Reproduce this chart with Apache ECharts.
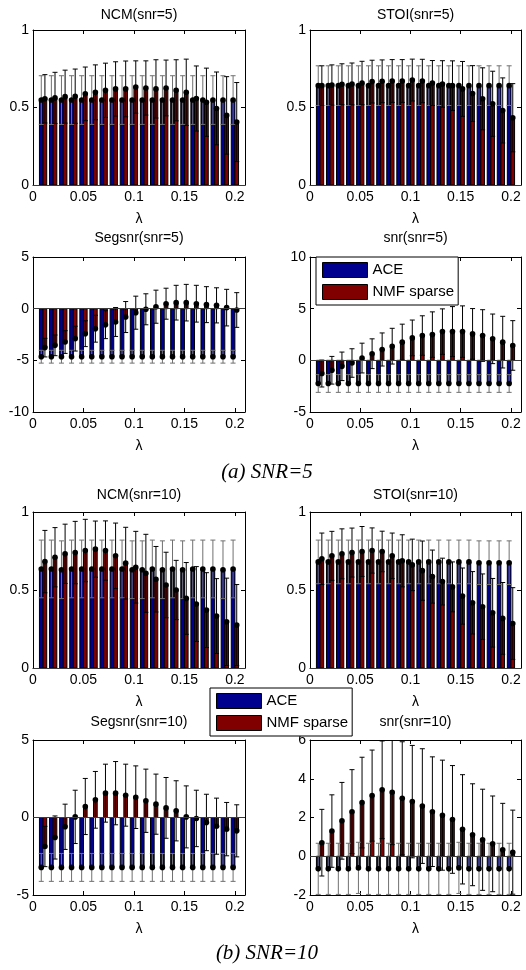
<!DOCTYPE html>
<html>
<head>
<meta charset="utf-8">
<script src="https://cdn.jsdelivr.net/npm/echarts@6/dist/echarts.min.js"></script>
<style>
html,body{margin:0;padding:0;background:#fff;}
#chart{width:526px;height:970px;}
</style>
</head>
<body>
<div id="chart"></div>
<script>
// ---- data ----
var lambda = [0.01,0.02,0.03,0.04,0.05,0.06,0.07,0.08,0.09,0.10,0.11,0.12,0.13,0.14,0.15,0.16,0.17,0.18,0.19,0.20];
var xTicks = ['0','0.05','0.1','0.15','0.2'];

// NCM snr=5
var ncm5Ace    = [0.548,0.548,0.548,0.548,0.548,0.548,0.548,0.548,0.548,0.548,0.548,0.548,0.548,0.548,0.548,0.548,0.548,0.548,0.548,0.548];
var ncm5AceStd = [0.157,0.157,0.157,0.157,0.157,0.157,0.157,0.157,0.157,0.157,0.157,0.157,0.157,0.157,0.157,0.157,0.157,0.157,0.157,0.157];
var ncm5Nmf    = [0.556,0.562,0.570,0.573,0.588,0.598,0.611,0.620,0.620,0.632,0.626,0.620,0.626,0.611,0.598,0.558,0.534,0.494,0.449,0.406];
var ncm5NmfStd = [0.156,0.165,0.171,0.175,0.173,0.177,0.175,0.175,0.180,0.169,0.175,0.188,0.180,0.197,0.214,0.210,0.220,0.235,0.250,0.255];

// STOI snr=5
var stoi5Ace    = [0.641,0.641,0.641,0.641,0.641,0.641,0.641,0.641,0.641,0.641,0.641,0.641,0.641,0.641,0.641,0.641,0.641,0.641,0.641,0.641];
var stoi5AceStd = [0.128,0.128,0.128,0.128,0.128,0.128,0.128,0.128,0.128,0.128,0.128,0.128,0.128,0.128,0.128,0.128,0.128,0.128,0.128,0.128];
var stoi5Nmf    = [0.641,0.645,0.650,0.652,0.658,0.667,0.669,0.671,0.671,0.677,0.671,0.658,0.652,0.641,0.620,0.590,0.556,0.524,0.481,0.434];
var stoi5NmfStd = [0.128,0.130,0.132,0.135,0.140,0.138,0.138,0.138,0.138,0.135,0.140,0.145,0.150,0.160,0.177,0.180,0.200,0.210,0.210,0.220];

// Segsnr snr=5
var seg5Ace    = [-4.65,-4.65,-4.65,-4.65,-4.65,-4.65,-4.65,-4.65,-4.65,-4.65,-4.65,-4.65,-4.65,-4.65,-4.65,-4.65,-4.65,-4.65,-4.65,-4.65];
var seg5AceStd = [0.62,0.62,0.62,0.62,0.62,0.62,0.62,0.62,0.62,0.62,0.62,0.62,0.62,0.62,0.62,0.62,0.62,0.62,0.62,0.62];
var seg5Nmf    = [-3.77,-3.55,-3.23,-2.90,-2.42,-1.94,-1.55,-1.29,-0.81,-0.39,-0.06,0.19,0.48,0.58,0.58,0.48,0.39,0.32,0.10,-0.13];
var seg5NmfStd = [0.90,1.00,1.10,1.20,1.25,1.30,1.35,1.40,1.50,1.60,1.50,1.60,1.50,1.68,1.77,1.78,1.74,1.70,1.77,1.68];

// snr snr=5
var snr5Ace    = [-2.24,-2.24,-2.24,-2.24,-2.24,-2.24,-2.24,-2.24,-2.24,-2.24,-2.24,-2.24,-2.24,-2.24,-2.24,-2.24,-2.24,-2.24,-2.24,-2.24];
var snr5AceStd = [0.86,0.86,0.86,0.86,0.86,0.86,0.86,0.86,0.86,0.86,0.86,0.86,0.86,0.86,0.86,0.86,0.86,0.86,0.86,0.86];
var snr5Nmf    = [-1.28,-0.96,-0.58,-0.26,0.22,0.64,1.05,1.37,1.76,2.17,2.40,2.49,2.78,2.78,2.78,2.56,2.40,2.08,1.76,1.44];
var snr5NmfStd = [1.30,1.34,1.38,1.38,1.44,1.44,1.60,1.73,1.74,1.73,1.91,2.20,2.20,2.42,2.49,2.45,2.50,2.40,2.50,2.40];

// NCM snr=10
var ncm10Ace    = [0.635,0.635,0.630,0.635,0.635,0.635,0.635,0.635,0.635,0.630,0.630,0.635,0.630,0.635,0.630,0.635,0.635,0.635,0.630,0.635];
var ncm10AceStd = [0.185,0.185,0.185,0.185,0.185,0.185,0.185,0.185,0.185,0.185,0.185,0.185,0.185,0.185,0.185,0.185,0.185,0.185,0.185,0.185];
var ncm10Nmf    = [0.682,0.710,0.732,0.740,0.753,0.762,0.753,0.719,0.672,0.646,0.607,0.569,0.532,0.500,0.446,0.410,0.371,0.333,0.296,0.275];
var ncm10NmfStd = [0.200,0.190,0.190,0.200,0.200,0.180,0.190,0.210,0.230,0.230,0.250,0.210,0.210,0.190,0.230,0.240,0.240,0.240,0.280,0.260];

// STOI snr=10
var stoi10Ace    = [0.680,0.680,0.680,0.680,0.680,0.680,0.680,0.680,0.680,0.680,0.680,0.680,0.680,0.680,0.680,0.680,0.675,0.675,0.675,0.675];
var stoi10AceStd = [0.140,0.140,0.140,0.140,0.140,0.140,0.140,0.140,0.140,0.140,0.140,0.140,0.140,0.140,0.140,0.140,0.140,0.140,0.140,0.140];
var stoi10Nmf    = [0.700,0.719,0.732,0.740,0.747,0.753,0.747,0.719,0.687,0.661,0.624,0.586,0.554,0.520,0.461,0.418,0.393,0.354,0.318,0.285];
var stoi10NmfStd = [0.165,0.157,0.160,0.157,0.160,0.145,0.130,0.146,0.167,0.165,0.190,0.170,0.150,0.160,0.180,0.200,0.210,0.220,0.230,0.230];

// Segsnr snr=10
var seg10Ace    = [-3.22,-3.22,-3.22,-3.22,-3.22,-3.22,-3.22,-3.22,-3.22,-3.22,-3.22,-3.22,-3.22,-3.22,-3.22,-3.22,-3.22,-3.22,-3.22,-3.22];
var seg10AceStd = [0.90,0.90,0.90,0.90,0.90,0.90,0.90,0.90,0.90,0.90,0.90,0.90,0.90,0.90,0.90,0.90,0.90,0.90,0.90,0.90];
var seg10Nmf    = [-1.87,-1.29,-0.60,0.04,0.71,1.14,1.57,1.57,1.44,1.31,1.08,0.86,0.62,0.43,0.04,-0.06,-0.32,-0.56,-0.75,-0.86];
var seg10NmfStd = [1.30,1.39,1.46,1.72,1.81,1.83,1.87,2.04,2.00,2.02,2.04,1.94,1.96,1.94,2.00,1.82,1.82,1.81,1.72,1.68];

// snr snr=10
var snr10Ace    = [-0.65,-0.65,-0.65,-0.65,-0.60,-0.65,-0.65,-0.65,-0.65,-0.65,-0.65,-0.65,-0.65,-0.65,-0.60,-0.65,-0.65,-0.65,-0.65,-0.65];
var snr10AceStd = [1.32,1.32,1.32,1.32,1.32,1.32,1.32,1.32,1.32,1.32,1.32,1.32,1.32,1.32,1.32,1.32,1.32,1.32,1.32,1.32];
var snr10Nmf    = [0.70,1.30,1.83,2.30,2.77,3.13,3.43,3.30,2.99,2.82,2.59,2.30,2.12,1.90,1.39,1.11,0.85,0.64,0.33,0.21];
var snr10NmfStd = [1.72,1.87,1.98,2.17,2.34,2.35,2.52,2.70,2.92,2.90,2.96,2.83,2.84,2.78,2.82,2.63,2.61,2.47,2.40,2.17];

var titles = ['NCM(snr=5)','STOI(snr=5)','Segsnr(snr=5)','snr(snr=5)','NCM(snr=10)','STOI(snr=10)','Segsnr(snr=10)','snr(snr=10)'];
var seriesNames = ['ACE','NMF sparse'];
var captions = ['(a) SNR=5','(b) SNR=10'];

// ---- layout / styles ----
var FONT = '"Liberation Sans", Arial, Helvetica, sans-serif';
var ACE_COLOR = '#00008f';
var NMF_COLOR = '#800000';
var ACE_ERR = '#707070';
var NMF_ERR = '#000000';
var BAR_W = 0.0036;
var OFF = 0.0018;

var panels = [
  {left:33,  top:30,  width:212, height:155, min:0,   max:1,  interval:0.5, titleY:15,  d:[ncm5Ace,ncm5AceStd,ncm5Nmf,ncm5NmfStd]},
  {left:310, top:30,  width:211, height:155, min:0,   max:1,  interval:0.5, titleY:15,  d:[stoi5Ace,stoi5AceStd,stoi5Nmf,stoi5NmfStd]},
  {left:33,  top:257, width:212, height:155, min:-10, max:5,  interval:5,   titleY:238, d:[seg5Ace,seg5AceStd,seg5Nmf,seg5NmfStd]},
  {left:310, top:257, width:211, height:155, min:-5,  max:10, interval:5,   titleY:238, d:[snr5Ace,snr5AceStd,snr5Nmf,snr5NmfStd]},
  {left:33,  top:512, width:212, height:156, min:0,   max:1,  interval:0.5, titleY:495, d:[ncm10Ace,ncm10AceStd,ncm10Nmf,ncm10NmfStd]},
  {left:310, top:512, width:211, height:156, min:0,   max:1,  interval:0.5, titleY:495, d:[stoi10Ace,stoi10AceStd,stoi10Nmf,stoi10NmfStd]},
  {left:33,  top:740, width:212, height:155, min:-5,  max:5,  interval:5,   titleY:722, d:[seg10Ace,seg10AceStd,seg10Nmf,seg10NmfStd]},
  {left:310, top:740, width:211, height:155, min:-2,  max:6,  interval:2,   titleY:722, d:[snr10Ace,snr10AceStd,snr10Nmf,snr10NmfStd]}
];

function makeBarRender(off, color){
  return function(params, api){
    var x = api.value(0) + off;
    var v = api.value(1);
    var p1 = api.coord([x, v]);
    var p0 = api.coord([x, 0]);
    var w = api.size([BAR_W, 0])[0];
    return {
      type:'rect',
      shape:{x:p1[0]-w/2, y:Math.min(p0[1],p1[1]), width:w, height:Math.abs(p0[1]-p1[1])},
      style:{fill:color, stroke:'#000', lineWidth:1}
    };
  };
}
function makeErrRender(off, color){
  return function(params, api){
    var x = api.value(0) + off;
    var v = api.value(1), s = api.value(2);
    var c = api.coord([x, v]);
    var t = api.coord([x, v + s]);
    var b = api.coord([x, v - s]);
    var cw = 2.5;
    var ls = {stroke:color, lineWidth:1};
    return {type:'group', children:[
      {type:'line', shape:{x1:t[0], y1:t[1], x2:b[0], y2:b[1]}, style:ls},
      {type:'line', shape:{x1:t[0]-cw, y1:t[1], x2:t[0]+cw, y2:t[1]}, style:ls},
      {type:'line', shape:{x1:b[0]-cw, y1:b[1], x2:b[0]+cw, y2:b[1]}, style:ls},
      {type:'circle', shape:{cx:c[0], cy:c[1], r:2.8}, style:{fill:'#000'}}
    ]};
  };
}
function xFmt(v){
  var k = Math.round(v * 20);
  if (Math.abs(v * 20 - k) > 1e-6 || k < 0 || k > 4) return '';
  return xTicks[k];
}
function yFmt(v){ return String(+v.toFixed(2)); }

var grids = [], xAxes = [], yAxes = [], series = [], graphics = [];
var axisLine = {show:true, onZero:false, lineStyle:{color:'#000', width:1}};
var axisTick = {show:true, inside:true, length:4, lineStyle:{color:'#000', width:1}};

panels.forEach(function(p, i){
  grids.push({left:p.left, top:p.top, width:p.width, height:p.height, containLabel:false});
  xAxes.push({type:'value', gridIndex:i, position:'bottom', min:0, max:0.21, interval:0.05,
    name:'λ', nameLocation:'middle', nameGap:27,
    nameTextStyle:{fontSize:14, color:'#000', fontFamily:FONT},
    axisLine:axisLine, axisTick:axisTick, splitLine:{show:false},
    axisLabel:{fontSize:14, color:'#000', margin:5, fontFamily:FONT, showMaxLabel:false, formatter:xFmt}});
  yAxes.push({type:'value', gridIndex:i, position:'left', min:p.min, max:p.max, interval:p.interval,
    axisLine:axisLine, axisTick:axisTick, splitLine:{show:false},
    axisLabel:{fontSize:14, color:'#000', margin:4, fontFamily:FONT, formatter:yFmt}});
  var ace = lambda.map(function(x,k){ return [x, p.d[0][k], p.d[1][k]]; });
  var nmf = lambda.map(function(x,k){ return [x, p.d[2][k], p.d[3][k]]; });
  series.push({type:'custom', name:seriesNames[0], xAxisIndex:i, yAxisIndex:i, clip:true,
    itemStyle:{color:ACE_COLOR}, renderItem:makeBarRender(-OFF, ACE_COLOR), data:ace, silent:true,
    markLine:{silent:true, symbol:'none', label:{show:false}, animation:false,
      lineStyle:{color:'#3a3a3a', type:'solid', width:1}, data:[{yAxis:0}]}});
  series.push({type:'custom', name:seriesNames[1], xAxisIndex:i, yAxisIndex:i, clip:true,
    itemStyle:{color:NMF_COLOR}, renderItem:makeBarRender(OFF, NMF_COLOR), data:nmf, silent:true});
  series.push({type:'custom', name:seriesNames[0] + ' error', xAxisIndex:i, yAxisIndex:i, clip:true,
    renderItem:makeErrRender(-OFF, ACE_ERR), data:ace, silent:true, z:3});
  series.push({type:'custom', name:seriesNames[1] + ' error', xAxisIndex:i, yAxisIndex:i, clip:true,
    renderItem:makeErrRender(OFF, NMF_ERR), data:nmf, silent:true, z:4});
  graphics.push({type:'text', x:p.left + p.width/2, y:p.titleY,
    style:{text:titles[i], fill:'#000', font:'14px ' + FONT, align:'center', verticalAlign:'middle',
      textAlign:'center', textVerticalAlign:'middle'}});
});
// mirror axes (top / right) for boxed look with inside ticks
panels.forEach(function(p, i){
  xAxes.push({type:'value', gridIndex:i, position:'top', min:0, max:0.21, interval:0.05,
    axisLine:axisLine, axisTick:axisTick, axisLabel:{show:false}, splitLine:{show:false}});
  yAxes.push({type:'value', gridIndex:i, position:'right', min:p.min, max:p.max, interval:p.interval,
    axisLine:axisLine, axisTick:axisTick, axisLabel:{show:false}, splitLine:{show:false}});
});

graphics.push({type:'text', x:267, y:472,
  style:{text:captions[0], fill:'#000', font:'italic 21px "Liberation Serif", "Times New Roman", serif',
    align:'center', verticalAlign:'middle', textAlign:'center', textVerticalAlign:'middle'}});
graphics.push({type:'text', x:267, y:953,
  style:{text:captions[1], fill:'#000', font:'italic 21px "Liberation Serif", "Times New Roman", serif',
    align:'center', verticalAlign:'middle', textAlign:'center', textVerticalAlign:'middle'}});

function legendCfg(left, top){
  return {
    left:left, top:top, orient:'vertical', selectedMode:false,
    padding:[5,4,5,6], itemGap:6, itemWidth:45, itemHeight:15,
    backgroundColor:'#fff', borderColor:'#000', borderWidth:1, borderRadius:0,
    textStyle:{fontSize:15, color:'#000', fontFamily:FONT},
    data:[
      {name:seriesNames[0], icon:'rect', itemStyle:{color:ACE_COLOR, borderColor:'#000', borderWidth:1}},
      {name:seriesNames[1], icon:'rect', itemStyle:{color:NMF_COLOR, borderColor:'#000', borderWidth:1}}
    ]
  };
}

var option = {
  animation:false,
  backgroundColor:'#fff',
  textStyle:{fontFamily:FONT},
  grid:grids,
  xAxis:xAxes,
  yAxis:yAxes,
  legend:[legendCfg(316, 257), legendCfg(210, 688)],
  series:series,
  graphic:graphics
};
var chart = echarts.init(document.getElementById('chart'), null, {renderer:'canvas'});
chart.setOption(option);
</script>
</body>
</html>
